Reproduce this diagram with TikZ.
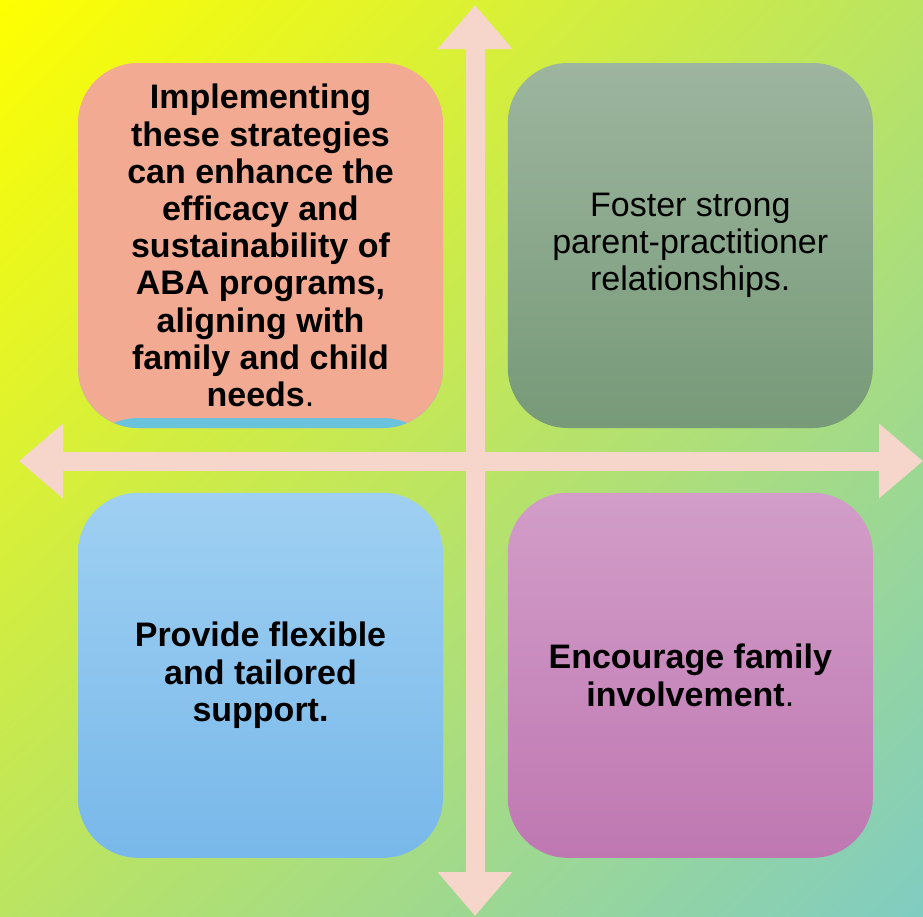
\documentclass[tikz,border=0pt]{standalone}
\usepackage{fontspec}
\setmainfont{Liberation Sans}
\usetikzlibrary{arrows.meta,positioning,shadings}
\definecolor{bgyellow}{RGB}{255,255,0}
\definecolor{bglime}{RGB}{186,228,98}
\definecolor{bgteal}{RGB}{128,204,194}
\definecolor{crosspink}{RGB}{246,213,203}
\definecolor{salmon}{RGB}{242,170,147}
\tikzstyle{tile} = [rectangle,rounded corners=30pt,minimum size=182.5pt,inner sep=0,align=center,text=black,font=\fontsize{17}{18.6}\selectfont]
\tikzstyle{cross} = [line width=9.5pt,color=crosspink,{Triangle[length=22pt,width=36pt]}-{Triangle[length=22pt,width=36pt]}]
\def \gap {32pt}

\begin{document}
\begin{tikzpicture}[x=0.5pt,y=-0.5pt]
  \useasboundingbox (0,0) rectangle (923,917);
  \shade[upper left=bgyellow,upper right=bglime,lower left=bglime,lower right=bgteal] (0,0) rectangle (923,917);
  % the four tiles
  \node[tile,fill=salmon,font=\fontsize{17}{18.6}\selectfont\bfseries,
        path picture={\shade[top color={rgb,255:red,140;green,165;blue,215},middle color={rgb,255:red,70;green,175;blue,230},bottom color={rgb,255:red,105;green,195;blue,220}]
          ([yshift=5pt]path picture bounding box.south west) rectangle (path picture bounding box.south east);}]
        (strat) at (260.5,245.5) {Implementing\\these strategies\\can enhance the\\efficacy and\\sustainability of\\ABA programs,\\aligning with\\family and child\\needs{\mdseries .}};
  \node[tile,right=\gap of strat,top color={rgb,255:red,157;green,181;blue,159},bottom color={rgb,255:red,119;green,154;blue,120}]
        (foster) {Foster strong\\parent-practitioner\\relationships.};
  \node[tile,below=\gap of strat,font=\fontsize{17}{18.6}\selectfont\bfseries,top color={rgb,255:red,159;green,208;blue,242},bottom color={rgb,255:red,120;green,184;blue,234}]
        (flex) {Provide flexible\\and tailored\\support.};
  \node[tile,right=\gap of flex,font=\fontsize{17}{18.6}\selectfont\bfseries,top color={rgb,255:red,210;green,157;blue,200},bottom color={rgb,255:red,191;green,120;blue,178}]
        (involve) {Encourage family\\involvement{\mdseries .}};
  % the cross
  \coordinate (north) at (475,5);
  \coordinate (south) at (475,916);
  \coordinate (west) at (19,461);
  \coordinate (east) at (923,461);
  \draw[cross] (west) -- (east);
  \draw[cross] (north) -- (south);
\end{tikzpicture}
\end{document}
